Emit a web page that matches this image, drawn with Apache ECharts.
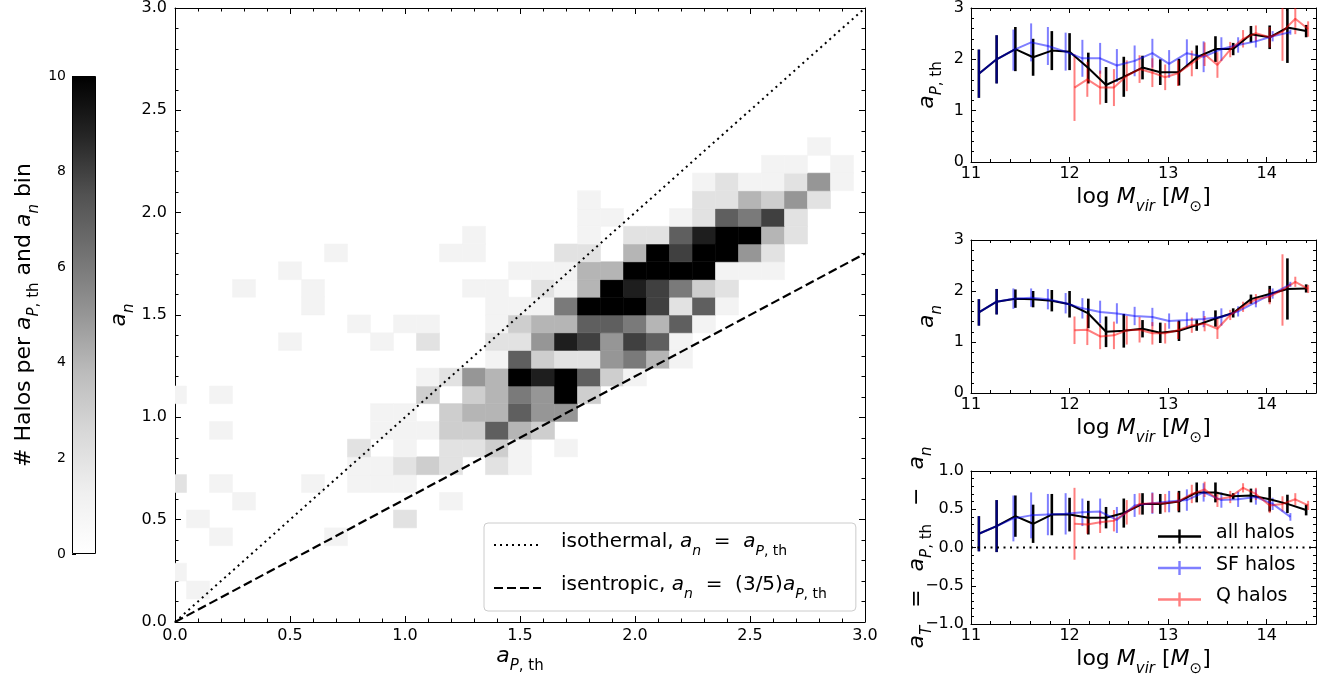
<!DOCTYPE html>
<html><head><meta charset="utf-8">
<script src="https://cdn.jsdelivr.net/npm/echarts@6/dist/echarts.min.js"></script>
<style>html,body{margin:0;padding:0;background:#fff}#c{width:1338px;height:685px}</style>
</head><body><div id="c"></div>
<script>
// ---------- 2D histogram (a_P,th vs a_n) ----------
const xEdges = [-0.05,0.05,0.15,0.25,0.35,0.45,0.55,0.65,0.75,0.85,0.95,1.05,1.15,1.25,1.35,1.45,1.55,1.65,1.75,1.85,1.95,2.05,2.15,2.25,2.35,2.45,2.55,2.65,2.75,2.85,2.95];
const yEdges = [0.027,0.113,0.200,0.287,0.373,0.460,0.547,0.633,0.720,0.807,0.893,0.980,1.067,1.153,1.240,1.327,1.413,1.500,1.587,1.673,1.760,1.847,1.933,2.020,2.107,2.193,2.280,2.367,2.453];
// [x bin, y bin, count]
const heatCells = [
 [1,1,1],[0,2,1],[2,4,1],[7,4,1],[1,5,1],[10,5,2],[3,6,1],[12,6,1],
 [0,7,2],[2,7,1],[6,7,1],[8,7,1],[9,7,1],[10,7,1],
 [8,8,1],[9,8,1],[10,8,2],[11,8,3],[12,8,2],[14,8,2],[15,8,1],
 [8,9,2],[10,9,1],[12,9,2],[13,9,2],[14,9,3],[15,9,1],[17,9,1],
 [2,10,1],[9,10,1],[10,10,1],[11,10,1],[12,10,3],[13,10,3],[14,10,7],[15,10,4],[16,10,3],
 [9,11,1],[10,11,1],[12,11,3],[13,11,4],[14,11,4],[15,11,7],[16,11,5],[17,11,5],
 [0,12,1],[2,12,1],[11,12,3],[13,12,3],[14,12,4],[15,12,6],[16,12,5],[17,12,10],[18,12,3],
 [11,13,1],[12,13,2],[13,13,5],[14,13,4],[15,13,10],[16,13,9],[17,13,10],[18,13,7],[19,13,3],[20,13,1],
 [14,14,1],[15,14,7],[16,14,3],[17,14,2],[18,14,2],[19,14,5],[20,14,6],[21,14,4],[22,14,1],
 [5,15,1],[9,15,1],[11,15,2],[14,15,2],[15,15,2],[16,15,5],[17,15,9],[18,15,8],[19,15,5],[20,15,8],[21,15,7],[22,15,1],
 [8,16,1],[10,16,1],[11,16,1],[14,16,1],[15,16,3],[16,16,4],[17,16,4],[18,16,7],[19,16,7],[20,16,6],[21,16,4],[22,16,7],[23,16,1],
 [6,17,1],[14,17,1],[15,17,1],[16,17,1],[17,17,6],[18,17,10],[19,17,10],[20,17,10],[21,17,8],[22,17,2],[23,17,7],[24,17,1],
 [3,18,1],[6,18,1],[13,18,1],[14,18,1],[16,18,2],[17,18,1],[18,18,4],[19,18,10],[20,18,9],[21,18,8],[22,18,6],[23,18,3],[24,18,2],
 [5,19,1],[15,19,1],[16,19,1],[17,19,1],[18,19,4],[19,19,4],[20,19,10],[21,19,10],[22,19,10],[23,19,10],[24,19,1],[25,19,1],[26,19,1],
 [7,20,1],[12,20,1],[13,20,1],[17,20,2],[18,20,2],[20,20,4],[21,20,10],[22,20,8],[23,20,10],[24,20,10],[25,20,5],[26,20,2],
 [13,21,1],[18,21,1],[20,21,2],[21,21,2],[22,21,7],[23,21,9],[24,21,10],[25,21,10],[26,21,4],[27,21,2],
 [18,22,1],[19,22,1],[22,22,1],[23,22,2],[24,22,7],[25,22,6],[26,22,8],[27,22,2],
 [18,23,1],[23,23,2],[24,23,2],[25,23,4],[26,23,3],[27,23,5],[28,23,2],
 [23,24,1],[24,24,2],[25,24,1],[26,24,1],[27,24,2],[28,24,5],[29,24,1],
 [26,25,1],[27,25,1],[29,25,1],
 [28,26,1]
];
const countMax = 10;
const isothermalLine = [[0,0],[3,3]];
const isentropicLine = [[0,0],[3,1.8]];

// ---------- right panels ----------
const massAll = [11.08,11.26,11.45,11.63,11.82,12.00,12.19,12.37,12.55,12.74,12.92,13.11,13.29,13.48,13.66,13.84,14.03,14.21,14.40];
const massSF  = [11.08,11.26,11.43,11.61,11.78,11.96,12.13,12.31,12.48,12.66,12.84,13.01,13.19,13.36,13.54,13.71,13.89,14.06,14.24];
const massQ   = [12.05,12.18,12.31,12.45,12.58,12.71,12.84,12.97,13.10,13.24,13.37,13.50,13.63,13.76,13.89,14.03,14.16,14.29,14.42];

const aP_all    = [1.72,2.00,2.20,2.04,2.17,2.15,1.83,1.50,1.66,1.84,1.75,1.75,2.04,2.20,2.20,2.49,2.43,2.62,2.55];
const aP_allErr = [0.47,0.47,0.43,0.36,0.38,0.36,0.30,0.35,0.39,0.23,0.25,0.26,0.23,0.25,0.12,0.16,0.23,0.69,0.12];
const aP_SF     = [1.72,2.00,2.18,2.33,2.26,2.15,2.02,2.02,1.88,1.97,2.12,1.91,2.12,2.05,2.20,2.28,2.35,2.45,2.53];
const aP_SFErr  = [0.47,0.47,0.40,0.37,0.37,0.37,0.36,0.30,0.32,0.30,0.28,0.27,0.27,0.30,0.23,0.15,0.12,0.10,0.05];
const aP_Q      = [1.45,1.61,1.45,1.45,1.68,1.81,1.74,1.65,1.73,1.92,2.10,1.89,2.19,2.40,2.51,2.43,2.54,2.79,2.59];
const aP_QErr   = [0.65,0.34,0.33,0.36,0.30,0.27,0.28,0.25,0.25,0.25,0.23,0.25,0.15,0.17,0.15,0.20,0.57,0.30,0.15];

const an_all    = [1.58,1.79,1.85,1.84,1.81,1.74,1.56,1.20,1.22,1.26,1.18,1.22,1.33,1.46,1.57,1.84,1.94,2.04,2.05];
const an_allErr = [0.26,0.25,0.18,0.16,0.21,0.26,0.29,0.30,0.33,0.17,0.20,0.20,0.11,0.16,0.09,0.09,0.16,0.60,0.08];
const an_SF     = [1.58,1.79,1.85,1.87,1.84,1.76,1.66,1.59,1.56,1.51,1.49,1.41,1.43,1.45,1.49,1.60,1.78,1.95,2.13];
const an_SFErr  = [0.26,0.25,0.20,0.18,0.20,0.20,0.20,0.22,0.20,0.18,0.18,0.15,0.15,0.16,0.17,0.10,0.10,0.10,0.05];
const an_Q      = [1.23,1.24,1.11,1.13,1.23,1.24,1.17,1.17,1.23,1.33,1.36,1.26,1.53,1.69,1.84,1.89,2.02,2.18,2.04];
const an_QErr   = [0.27,0.30,0.25,0.27,0.28,0.25,0.22,0.20,0.17,0.15,0.15,0.20,0.10,0.10,0.10,0.15,0.70,0.10,0.08];

const aT_all    = [0.18,0.28,0.41,0.31,0.43,0.43,0.39,0.39,0.45,0.57,0.57,0.60,0.72,0.72,0.67,0.68,0.63,0.57,0.49];
const aT_allErr = [0.23,0.34,0.27,0.25,0.27,0.22,0.22,0.14,0.19,0.14,0.13,0.14,0.13,0.13,0.04,0.09,0.16,0.12,0.07];
const aT_SF     = [0.18,0.28,0.38,0.42,0.43,0.44,0.46,0.47,0.36,0.55,0.58,0.60,0.62,0.72,0.62,0.63,0.66,0.57,0.40];
const aT_SFErr  = [0.23,0.34,0.30,0.30,0.27,0.27,0.18,0.17,0.17,0.15,0.14,0.14,0.14,0.12,0.10,0.10,0.10,0.08,0.05];
const aT_Q      = [0.31,0.30,0.33,0.35,0.46,0.57,0.58,0.58,0.60,0.70,0.76,0.63,0.66,0.78,0.70,0.55,0.57,0.63,0.55];
const aT_QErr   = [0.47,0.12,0.14,0.14,0.16,0.14,0.13,0.12,0.12,0.12,0.10,0.10,0.08,0.06,0.08,0.10,0.10,0.08,0.06];
const zeroLine = [[11,0],[14.5,0]];

// ---------- styling ----------
const F = 'DejaVu Sans';
const greys = ['#ffffff','#f0f0f0','#d9d9d9','#bdbdbd','#969696','#737373','#525252','#252525','#000000'];
function rich(fs){
  const lh = Math.round(fs*1.3), s = Math.round(fs*0.7);
  return {
    i:{fontFamily:F,fontSize:fs,fontStyle:'italic',lineHeight:lh,verticalAlign:'top',color:'#000'},
    r:{fontFamily:F,fontSize:fs,lineHeight:lh,verticalAlign:'top',color:'#000'},
    op:{fontFamily:F,fontSize:fs,lineHeight:lh,verticalAlign:'top',color:'#000',padding:[0,18,0,18]},
    si:{fontFamily:F,fontSize:s,fontStyle:'italic',lineHeight:s,verticalAlign:'bottom',color:'#000'},
    sr:{fontFamily:F,fontSize:s,lineHeight:s,verticalAlign:'bottom',color:'#000'},
    sp:{width:15,lineHeight:lh}, sp2:{width:10,lineHeight:lh}
  };
}
const T_aP = '{i|a}{si|P}{sr|, th}';
const T_an = '{i|a}{si|n}';
const T_aT = '{i|a}{si|T}{op|=}{i|a}{si|P}{sr|, th}{op|−}{i|a}{si|n}';
const T_M  = '{r|log }{i|M}{si|vir}{r| [}{i|M}{sr|⊙}{r|]}';
const T_cb = '{r|# Halos per }{i|a}{si|P}{sr|, th}{r| and }{i|a}{si|n}{r| bin}';
const legendText = {
  iso: '{sp|}{r|isothermal, }{i|a}{si|n}{r|  =  }{i|a}{si|P}{sr|, th}',
  isen:'{sp|}{r|isentropic, }{i|a}{si|n}{r|  =  (3/5)}{i|a}{si|P}{sr|, th}'
};
const BLK = '#000';
function axisCommon(o){
  return Object.assign({
    type:'value', nameMoveOverlap:false,
    axisLine:{show:true,onZero:false,lineStyle:{color:BLK,width:1}},
    axisTick:{show:true,inside:true,length:6,lineStyle:{color:BLK,width:1}},
    minorTick:{show:true,splitNumber:5,length:3.5,lineStyle:{color:BLK,width:1}},
    splitLine:{show:false}, minorSplitLine:{show:false},
    axisLabel:{show:true,fontFamily:F,fontSize:16,color:BLK}
  }, o);
}
const noLabel = {show:false};
const fmt1 = v => (Math.abs(v)<1e-9?0:v).toFixed(1).replace('-','−');
const fmt0 = v => String(Math.round(v));

const xAxes = [], yAxes = [];
// main (x0 bottom, x1 top, y0 left, y1 right)
xAxes.push(axisCommon({gridIndex:0,position:'bottom',min:0,max:3,interval:0.5,
  axisLabel:{fontFamily:F,fontSize:16,color:BLK,margin:6,formatter:fmt1},
  name:T_aP,nameLocation:'middle',nameGap:23,nameTextStyle:{rich:rich(22)}}));
xAxes.push(axisCommon({gridIndex:0,position:'top',min:0,max:3,interval:0.5,axisLabel:noLabel}));
yAxes.push(axisCommon({gridIndex:0,position:'left',min:0,max:3,interval:0.5,
  axisLabel:{fontFamily:F,fontSize:16,color:BLK,margin:8,formatter:fmt1},
  name:T_an,nameLocation:'middle',nameGap:38,nameTextStyle:{rich:rich(22)}}));
yAxes.push(axisCommon({gridIndex:0,position:'right',min:0,max:3,interval:0.5,axisLabel:noLabel}));
// colorbar (x2, y2)
xAxes.push({gridIndex:1,type:'category',data:['n'],show:false});
yAxes.push(axisCommon({gridIndex:1,position:'left',min:0,max:countMax,interval:2,
  axisLine:{show:false},
  axisTick:{show:true,inside:true,length:4,lineStyle:{color:BLK,width:1}},
  minorTick:{show:true,splitNumber:4,length:2.5,lineStyle:{color:BLK,width:1}},
  axisLabel:{fontFamily:F,fontSize:14,color:BLK,margin:6,formatter:fmt0},
  name:T_cb,nameLocation:'middle',nameGap:30,nameTextStyle:{rich:rich(22)}}));
// right panels (x 3..8, y 3..8)
const panelY = [
  {min:0,max:3,interval:1,minor:5,fmt:fmt0,name:T_aP,gap:26},
  {min:0,max:3,interval:1,minor:5,fmt:fmt0,name:T_an,gap:26},
  {min:-1,max:1,interval:0.5,minor:5,fmt:fmt1,name:T_aT,gap:36}
];
panelY.forEach((p,k)=>{
  const g = 2+k;
  const tick = {show:true,inside:true,length:5,lineStyle:{color:BLK,width:1}};
  xAxes.push(axisCommon({gridIndex:g,position:'bottom',min:11,max:14.5,interval:1,
    axisTick:tick, minorTick:{show:true,splitNumber:5,length:3,lineStyle:{color:BLK,width:1}},
    axisLabel:{fontFamily:F,fontSize:16,color:BLK,margin:4,showMaxLabel:false,formatter:fmt0},
    name:T_M,nameLocation:'middle',nameGap:24,nameTextStyle:{rich:rich(22)}}));
  xAxes.push(axisCommon({gridIndex:g,position:'top',min:11,max:14.5,interval:1,
    axisTick:tick, minorTick:{show:true,splitNumber:5,length:3,lineStyle:{color:BLK,width:1}},
    axisLabel:noLabel}));
  yAxes.push(axisCommon({gridIndex:g,position:'left',min:p.min,max:p.max,interval:p.interval,
    axisTick:tick, minorTick:{show:true,splitNumber:p.minor,length:3,lineStyle:{color:BLK,width:1}},
    axisLabel:{fontFamily:F,fontSize:16,color:BLK,margin:7,formatter:p.fmt},
    name:p.name,nameLocation:'middle',nameGap:p.gap,nameTextStyle:{rich:rich(22)}}));
  yAxes.push(axisCommon({gridIndex:g,position:'right',min:p.min,max:p.max,interval:p.interval,
    axisTick:tick, minorTick:{show:true,splitNumber:p.minor,length:3,lineStyle:{color:BLK,width:1}},
    axisLabel:noLabel}));
});

function errRender(w){
  return function(params, api){
    const x = api.value(0), lo = api.value(1), hi = api.value(2);
    const a = api.coord([x, lo]), b = api.coord([x, hi]);
    return {type:'line',shape:{x1:a[0],y1:a[1],x2:b[0],y2:b[1]},
      style:{stroke:api.visual('color'),lineWidth:w}};
  };
}
function errData(xs, ys, es){ return xs.map((x,k)=>[x, ys[k]-es[k], ys[k]+es[k]]); }
function lineData(xs, ys){ return xs.map((x,k)=>[x, ys[k]]); }

const series = [];
series.push({
  type:'custom', xAxisIndex:0, yAxisIndex:0, clip:true, z:1, silent:true,
  data: heatCells.map(c=>[(xEdges[c[0]]+xEdges[c[0]+1])/2,(yEdges[c[1]]+yEdges[c[1]+1])/2,c[2],c[0],c[1]]),
  encode:{x:0,y:1},
  renderItem(params, api){
    const i = api.value(3), j = api.value(4);
    const p0 = api.coord([xEdges[i], yEdges[j+1]]);
    const p1 = api.coord([xEdges[i+1], yEdges[j]]);
    const c = api.visual('color');
    return {type:'rect',shape:{x:p0[0],y:p0[1],width:p1[0]-p0[0],height:p1[1]-p0[1]},
      style:{fill:c,stroke:c,lineWidth:0.6}};
  }
});
series.push({type:'line',name:'iso',xAxisIndex:0,yAxisIndex:0,data:isothermalLine,symbol:'none',z:3,silent:true,
  color:BLK,lineStyle:{color:BLK,width:2,type:[2,4]}});
series.push({type:'line',name:'isen',xAxisIndex:0,yAxisIndex:0,data:isentropicLine,symbol:'none',z:3,silent:true,
  color:BLK,lineStyle:{color:BLK,width:2.2,type:[9,4]}});
series.push({type:'bar',xAxisIndex:2,yAxisIndex:2,data:[countMax],barWidth:'100%',silent:true,
  itemStyle:{borderColor:BLK,borderWidth:1,
    color:new echarts.graphic.LinearGradient(0,0,0,1, greys.slice().reverse().map((c,k)=>({offset:k/(greys.length-1),color:c})))}});
const panels = [
  [aP_all,aP_allErr,aP_SF,aP_SFErr,aP_Q,aP_QErr],
  [an_all,an_allErr,an_SF,an_SFErr,an_Q,an_QErr],
  [aT_all,aT_allErr,aT_SF,aT_SFErr,aT_Q,aT_QErr]
];
const popColors = ['#000000','rgba(0,0,255,0.5)','rgba(255,0,0,0.5)'];
const popNames = ['all halos','SF halos','Q halos'];
const popMass = [massAll, massSF, massQ];
panels.forEach((P,k)=>{
  const ax = 3+2*k, ay = 3+2*k;
  for (let s=0;s<3;s++){
    const ys = P[2*s], es = P[2*s+1];
    series.push({type:'custom',xAxisIndex:ax,yAxisIndex:ay,clip:true,silent:true,z:2,
      itemStyle:{color:popColors[s]}, encode:{x:0,y:[1,2]},
      data:errData(popMass[s],ys,es), renderItem:errRender(s===0?2.6:2)});
    series.push({type:'line',name:popNames[s],xAxisIndex:ax,yAxisIndex:ay,symbol:'none',silent:true,z:2,
      color:popColors[s], lineStyle:{color:popColors[s],width:2}, data:lineData(popMass[s],ys)});
  }
  if (k===2){
    series.push({type:'line',xAxisIndex:ax,yAxisIndex:ay,data:zeroLine,symbol:'none',silent:true,z:2,
      lineStyle:{color:BLK,width:2,type:[2,4.5]}});
  }
});

const plusIcon = 'path://M0,5.8h43v2.4h-43z M20.3,0h2.4v14h-2.4z';
const option = {
  animation:false,
  backgroundColor:'#ffffff',
  grid:[
    {left:175,top:8,width:690,height:614,outerBoundsMode:'none'},
    {left:72,top:76,width:24,height:478,outerBoundsMode:'none'},
    {left:971,top:8,width:345,height:154,outerBoundsMode:'none'},
    {left:971,top:240,width:345,height:153,outerBoundsMode:'none'},
    {left:971,top:471,width:345,height:153,outerBoundsMode:'none'}
  ],
  xAxis:xAxes, yAxis:yAxes,
  visualMap:[{type:'continuous',show:false,seriesIndex:0,dimension:2,min:0,max:countMax,inRange:{color:greys}}],
  legend:[
    {left:484,top:523,orient:'vertical',padding:[9,29,10,9],itemGap:17,itemWidth:47,itemHeight:14,
     backgroundColor:'rgba(255,255,255,0.8)',borderColor:'#cccccc',borderWidth:1,borderRadius:4,
     selectedMode:false,data:['iso','isen'],formatter:n=>legendText[n],
     textStyle:{rich:rich(20)},itemStyle:{opacity:0}},
    {left:1158,top:524,orient:'vertical',padding:0,itemGap:12,itemWidth:43,itemHeight:14,
     selectedMode:false,
     data:popNames.map(n=>({name:n,icon:plusIcon})),
     formatter:n=>'{sp2|}{r|'+n+'}',textStyle:{rich:rich(19)}}
  ],
  series:series
};
const chart = echarts.init(document.getElementById('c'),null,{renderer:'canvas'});
chart.setOption(option);
</script></body></html>
